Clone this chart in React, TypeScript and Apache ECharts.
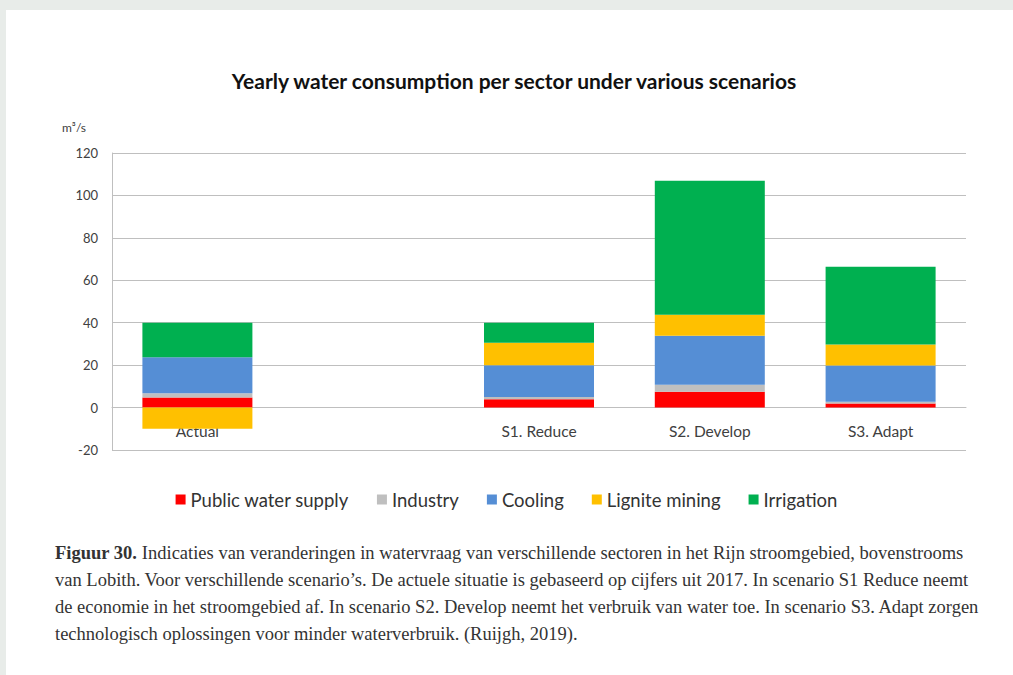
import React, { useEffect, useRef } from "react";
import * as echarts from "echarts";

const categories = ["Actual", "", "S1. Reduce", "S2. Develop", "S3. Adapt"];
const publicWaterSupply = [4.7, null, 3.9, 7.4, 1.9];
const industry = [2.0, null, 1.1, 3.3, 0.9];
const cooling = [17.0, null, 15.0, 23.1, 17.0];
const ligniteMining = [-10.0, null, 10.5, 9.9, 9.9];
const irrigation = [16.3, null, 9.5, 63.2, 36.7];
const yTicks = { min: -20, max: 120, interval: 20 };

const captionLines = [
  "Indicaties van veranderingen in watervraag van verschillende sectoren in het Rijn stroomgebied, bovenstrooms",
  "van Lobith. Voor verschillende scenario’s. De actuele situatie is gebaseerd op cijfers uit 2017. In scenario S1 Reduce neemt",
  "de economie in het stroomgebied af. In scenario S2. Develop neemt het verbruik van water toe. In scenario S3. Adapt zorgen",
  "technologisch oplossingen voor minder waterverbruik. (Ruijgh, 2019).",
];

export default function App() {
  const ref = useRef<HTMLDivElement>(null);
  useEffect(() => {
    if (!ref.current) return;
    const chart = echarts.init(ref.current, null, { renderer: "svg" });
    const mk = (name: string, data: (number | null)[], color: string) => ({
      name,
      type: "bar",
      stack: "total",
      data,
      barWidth: 110,
      itemStyle: { color },
      emphasis: { disabled: true },
    });
    const captionFont = "'Liberation Serif', serif";
    const cs = 18.5;
    chart.setOption({
      animation: false,
      backgroundColor: "#ffffff",
      title: {
        text: "Yearly water consumption per sector under various scenarios",
        left: 509,
        textAlign: "center",
        top: 65,
        textStyle: { fontFamily: "Lato", fontWeight: "bold", fontSize: 21, color: "#111111" },
      },
      legend: {
        top: 485,
        left: "center",
        itemWidth: 10,
        itemHeight: 10,
        itemGap: 28,
        icon: "rect",
        textStyle: { fontFamily: "Lato", fontSize: 18.5, color: "#333333" },
        data: ["Public water supply", "Industry", "Cooling", "Lignite mining", "Irrigation"],
      },
      grid: { left: 112, right: 47, top: 153, bottom: 225, containLabel: false },
      xAxis: {
        type: "category",
        data: categories,
        axisLine: { onZero: true, lineStyle: { color: "#bfbfbf", width: 1 } },
        axisTick: { show: false },
        axisLabel: { fontFamily: "Lato", fontSize: 15.5, color: "#404040", margin: -27 },
      },
      yAxis: {
        type: "value",
        min: yTicks.min,
        max: yTicks.max,
        interval: yTicks.interval,
        axisLine: { show: true, lineStyle: { color: "#bfbfbf", width: 1 } },
        axisTick: { show: false },
        splitLine: { lineStyle: { color: "#bfbfbf", width: 1 } },
        axisLabel: { fontFamily: "Lato", fontSize: 13, color: "#404040", margin: 14 },
      },
      graphic: [
        { type: "rect", shape: { x: 0, y: 0, width: 1013, height: 10 }, style: { fill: "#e8ece9" }, silent: true },
        { type: "rect", shape: { x: 0, y: 0, width: 6, height: 675 }, style: { fill: "#e8ece9" }, silent: true },
        {
          type: "text",
          x: 62,
          y: 127,
          style: { text: "m³/s", fontFamily: "Lato", fontSize: 12, fill: "#404040", verticalAlign: "middle" },
        },
        {
          type: "text",
          x: 55,
          y: 553,
          style: {
            text: "{b|Figuur 30.} " + captionLines[0],
            fontFamily: captionFont,
            fontSize: cs,
            fill: "#333333",
            verticalAlign: "middle",
            rich: { b: { fontFamily: captionFont, fontSize: cs, fontWeight: "bold", fill: "#333333" } },
          },
        },
        ...captionLines.slice(1).map((t, i) => ({
          type: "text",
          x: 55,
          y: 580 + i * 27,
          style: { text: t, fontFamily: captionFont, fontSize: cs, fill: "#333333", verticalAlign: "middle" },
        })),
      ],
      series: [
        mk("Public water supply", publicWaterSupply, "#ff0000"),
        mk("Industry", industry, "#bfbfbf"),
        mk("Cooling", cooling, "#558ed5"),
        mk("Lignite mining", ligniteMining, "#ffc000"),
        mk("Irrigation", irrigation, "#00b050"),
      ],
    });
    return () => chart.dispose();
  }, []);
  return (
    <div
      ref={ref}
      style={{ position: "absolute", left: 0, top: 0, width: 1013, height: 675 }}
    />
  );
}
